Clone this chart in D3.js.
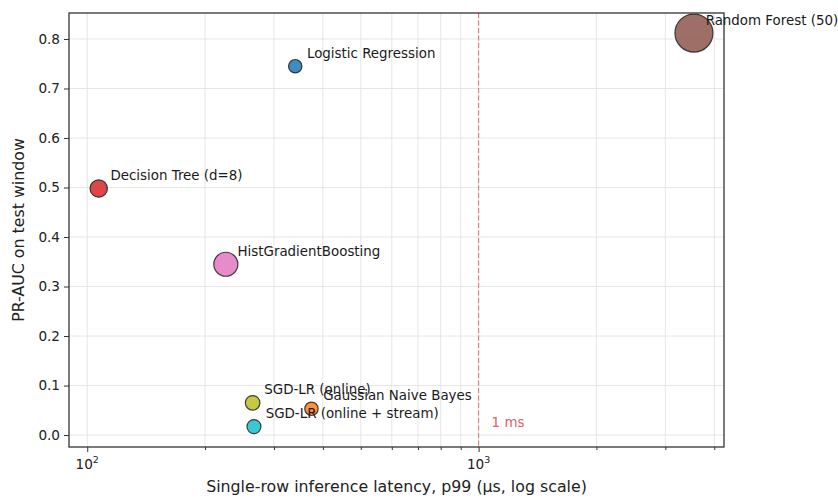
<!DOCTYPE html>
<html><head><meta charset="utf-8">
<script src="https://cdn.jsdelivr.net/npm/d3@7"></script>
<style>body{margin:0;background:#fff}text{font-family:"DejaVu Sans",sans-serif}</style>
</head><body><svg id="c" width="838" height="498"></svg>
<script>
const models = ["Logistic Regression","Gaussian Naive Bayes","Decision Tree (d=8)","HistGradientBoosting","Random Forest (50)","SGD-LR (online)","SGD-LR (online + stream)"];
const latencyP99 = [340, 374, 107, 226, 3550, 264.6, 266.7];
const prAuc = [0.745, 0.053, 0.498, 0.345, 0.812, 0.065, 0.017];
const bubbleRadius = [6.7, 6.7, 8.7, 12, 19, 7.3, 7];
const colors = ["#1f77b4","#ff7f0e","#d62728","#e377c2","#8c564b","#bcbd22","#17becf"];
const yTicks = [0.0,0.1,0.2,0.3,0.4,0.5,0.6,0.7,0.8];
const xMajor = [100, 1000];
const xMajorLabels = ["2","3"];
const xMinor = [200,300,400,500,600,700,800,900,2000,3000,4000];
const thresholdX = 1000, thresholdLabel = "1 ms";

const L=69,R=724,T=13,B=447;
const svg=d3.select("#c");
const x=d3.scaleLog().domain([Math.pow(10,1.9534),Math.pow(10,3.627)]).range([L,R]);
const y=d3.scaleLinear().domain([-0.0242,0.8525]).range([B,T]);

// grid
const g=svg.append("g");
g.selectAll(".gx").data(xMajor.concat(xMinor)).enter().append("line")
 .attr("x1",d=>x(d)).attr("x2",d=>x(d)).attr("y1",T).attr("y2",B)
 .attr("stroke","#e3e3e3").attr("stroke-width",0.9);
g.selectAll(".gy").data(yTicks).enter().append("line")
 .attr("x1",L).attr("x2",R).attr("y1",d=>y(d)).attr("y2",d=>y(d))
 .attr("stroke","#e3e3e3").attr("stroke-width",0.9);

// threshold
svg.append("line").attr("x1",x(thresholdX)).attr("x2",x(thresholdX)).attr("y1",T).attr("y2",B)
 .attr("stroke","#e8474a").attr("stroke-opacity",0.7).attr("stroke-width",1.1).attr("stroke-dasharray","5,2.5");
svg.append("text").attr("x",x(thresholdX)+13).attr("y",y(0.0)-8).attr("font-size",13.4)
 .attr("fill","#e0606a").text(thresholdLabel);

// axes
const yAxis=d3.axisLeft(y).tickValues(yTicks).tickFormat(d3.format(".1f")).tickSize(5).tickPadding(4);
const ya=svg.append("g").attr("transform",`translate(${L},0)`).call(yAxis);
ya.select(".domain").remove();
ya.selectAll("text").attr("font-size",13.6).attr("fill","#222").attr("font-family","DejaVu Sans");
ya.selectAll("line").attr("stroke","#333");

const xAxisMaj=d3.axisBottom(x).tickValues(xMajor).tickFormat("").tickSize(5);
const xa=svg.append("g").attr("transform",`translate(0,${B})`).call(xAxisMaj);
xa.select(".domain").remove(); xa.selectAll("line").attr("stroke","#333");
const xAxisMin=d3.axisBottom(x).tickValues(xMinor).tickFormat("").tickSize(3);
const xm=svg.append("g").attr("transform",`translate(0,${B})`).call(xAxisMin);
xm.select(".domain").remove(); xm.selectAll("line").attr("stroke","#333");
xMajor.forEach((v,i)=>{
  const t=svg.append("text").attr("x",x(v)).attr("y",468.5).attr("text-anchor","middle").attr("font-size",13.6).attr("fill","#222");
  t.append("tspan").text("10");
  t.append("tspan").attr("font-size",9.5).attr("dy",-6).text(xMajorLabels[i]);
});

// points
svg.selectAll(".pt").data(models).enter().append("circle")
 .attr("cx",(d,i)=>x(latencyP99[i])).attr("cy",(d,i)=>y(prAuc[i])).attr("r",(d,i)=>bubbleRadius[i])
 .attr("fill",(d,i)=>colors[i]).attr("fill-opacity",0.85)
 .attr("stroke","#222").attr("stroke-opacity",0.85).attr("stroke-width",1.2);

// spines
svg.append("rect").attr("x",L).attr("y",T).attr("width",R-L).attr("height",B-T)
 .attr("fill","none").attr("stroke","#333").attr("stroke-width",1.3);

// labels
svg.selectAll(".lb").data(models).enter().append("text")
 .attr("x",(d,i)=>x(latencyP99[i])+11.7).attr("y",(d,i)=>y(prAuc[i])-8.5)
 .attr("font-size",13.4).attr("fill","#1a1a1a").text(d=>d);

// axis titles
svg.append("text").attr("x",(L+R)/2).attr("y",492).attr("text-anchor","middle").attr("font-size",15.8).attr("fill","#222")
 .text("Single-row inference latency, p99 (µs, log scale)");
svg.append("text").attr("transform",`translate(24,${(T+B)/2}) rotate(-90)`).attr("text-anchor","middle").attr("font-size",15.8).attr("fill","#222")
 .text("PR-AUC on test window");
</script></body></html>
